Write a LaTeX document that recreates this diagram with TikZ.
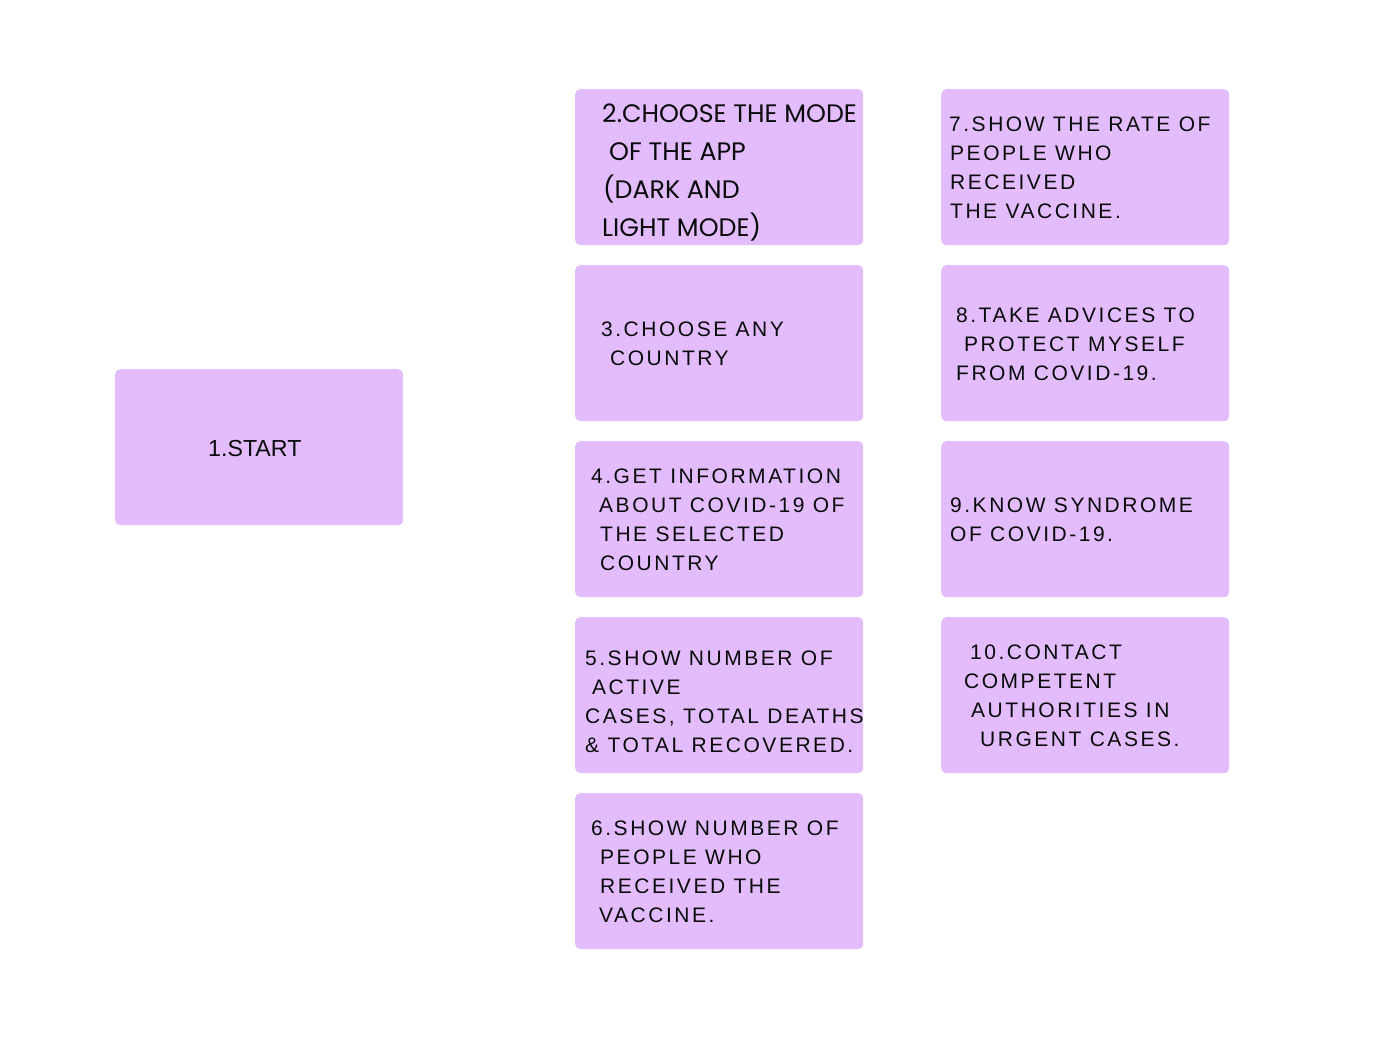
\documentclass[tikz,border=0pt]{standalone}
\usepackage{fontspec}
\usepackage{tikz}
\usetikzlibrary{positioning}
\newfontfamily\stepfont[LetterSpace=12]{Liberation Sans}
\newfontfamily\startfont{Liberation Sans}
\newfontfamily\modefont{Poppins}
\definecolor{lilac}{HTML}{E2BCFC}
\definecolor{ink}{HTML}{0A0A0A}
\tikzset{
  card/.style={fill=lilac,rounded corners=5pt,minimum width=288pt,minimum height=156pt,inner sep=0pt,anchor=north west},
  cardtext/.style={anchor=base west,align=left,inner sep=0pt,text=ink,font=\stepfont\fontsize{21}{29}\selectfont}
}
\begin{document}
\begin{tikzpicture}[x=1pt,y=-1pt]
\useasboundingbox (0,0) rectangle (1384,1037);
% cards
\node[card] (start) at (115,369) {};
\node[card] (mode) at (575,89) {};
\node[card] (country) at (575,265) {};
\node[card] (info) at (575,441) {};
\node[card] (cases) at (575,617) {};
\node[card] (people) at (575,793) {};
\node[card] (rate) at (941,89) {};
\node[card] (advice) at (941,265) {};
\node[card] (syndrome) at (941,441) {};
\node[card] (contact) at (941,617) {};
% texts (base = last line)
\node[cardtext,font=\startfont\fontsize{23.2}{29}\selectfont,below right=87pt and 93pt of start.north west,anchor=base west] (tstart) {1.START};
\node[cardtext,font=\modefont\fontsize{25.3}{38}\selectfont,below right=147pt and 27pt of mode.north west,anchor=base west] (tmode) {2.CHOOSE THE MODE\\\hspace*{7pt}OF THE APP\\\hspace*{1pt}(DARK AND\\LIGHT MODE)};
\node[cardtext,below right=100pt and 26pt of country.north west,anchor=base west] (tcountry) {3.CHOOSE ANY\\\hspace*{9pt}COUNTRY};
\node[cardtext,below right=129pt and 16pt of info.north west,anchor=base west] (tinfo) {4.GET INFORMATION\\\hspace*{8pt}ABOUT COVID-19 OF\\\hspace*{9pt}THE SELECTED\\\hspace*{9pt}COUNTRY};
\node[cardtext,below right=135pt and 10pt of cases.north west,anchor=base west] (tcases) {5.SHOW NUMBER OF\\\hspace*{7pt}ACTIVE\\CASES, TOTAL DEATHS\\\& TOTAL RECOVERED.};
\node[cardtext,below right=129pt and 16pt of people.north west,anchor=base west] (tpeople) {6.SHOW NUMBER OF\\\hspace*{9pt}PEOPLE WHO\\\hspace*{9pt}RECEIVED THE\\\hspace*{8pt}VACCINE.};
\node[cardtext,below right=129pt and 8pt of rate.north west,anchor=base west] (trate) {7.SHOW THE RATE OF\\\hspace*{1pt}PEOPLE WHO\\\hspace*{1pt}RECEIVED\\\hspace*{1pt}THE VACCINE.};
\node[cardtext,below right=115pt and 15pt of advice.north west,anchor=base west] (tadvice) {8.TAKE ADVICES TO\\\hspace*{8pt}PROTECT MYSELF\\FROM COVID-19.};
\node[cardtext,below right=100pt and 9pt of syndrome.north west,anchor=base west] (tsyndrome) {9.KNOW SYNDROME\\OF COVID-19.};
\node[cardtext,below right=129pt and 23pt of contact.north west,anchor=base west] (tcontact) {\hspace*{6pt}10.CONTACT\\COMPETENT\\\hspace*{7pt}AUTHORITIES IN\\\hspace*{16pt}URGENT CASES.};
\end{tikzpicture}
\end{document}
